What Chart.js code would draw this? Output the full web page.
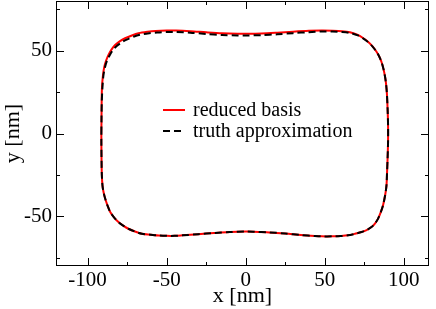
<!DOCTYPE html>
<html>
<head>
<meta charset="utf-8">
<script src="https://cdn.jsdelivr.net/npm/chart.js@4.4.0/dist/chart.umd.min.js"></script>
<style>
  html, body { margin: 0; padding: 0; background: #fff; }
  #wrap { width: 436px; height: 309px; }
</style>
</head>
<body>
<div id="wrap"><canvas id="shapeChart"></canvas></div>
<script>
// Axis ticks
const xTicks = [-100, -50, 0, 50, 100];
const yTicks = [-50, 0, 50];
const xMinor = [-75, -25, 25, 75];
const yMinor = [-75, -25, 25, 75];
const seriesLabels = ['reduced basis', 'truth approximation'];

// Reduced basis contour
const reducedX = [-91.3, -91.2, -91.1, -90.9, -90.3, -89.5, -88.3, -86.8, -84.8, -82.6, -79.5, -76.3, -72, -67.8, -62, -57, -50, -44, -35, -25, -15, -5, 0, 10, 20, 30, 40, 48, 55, 61, 66, 71, 74.5, 77.4, 80.3, 82.8, 84.5, 85.9, 87.2, 88, 88.7, 89.3, 89.8, 90.1, 90.1, 89.8, 89.4, 89.1, 88.3, 86.9, 85.5, 83.8, 81.9, 79.6, 76.5, 73.3, 69, 64.8, 60, 55, 48, 43.8, 35, 25, 15, 5, 0, -10, -20, -30, -40, -45, -50, -55, -60, -65.7, -70, -74.2, -77.5, -80.5, -83.3, -85.7, -87.4, -88.9, -90, -90.6, -91, -91.2, -91.3, -91.3];
const reducedY = [0, 10, 20, 28, 35, 40, 44, 47.5, 50.8, 53.4, 55.8, 57.5, 59.2, 60.5, 61.4, 61.9, 62.2, 62.2, 61.8, 61.1, 60.5, 60.2, 60.2, 60.4, 60.9, 61.5, 62, 62.2, 62.1, 61.8, 61.1, 59.5, 57.5, 55.4, 52.6, 49.4, 46.5, 43.3, 39, 35.3, 31, 25, 15, 5, -5, -15, -25, -31.3, -37, -43.4, -47.5, -51.4, -54.2, -56.5, -58.3, -59.5, -60.6, -61.5, -61.9, -62.1, -62.1, -61.9, -61.3, -60.4, -59.7, -59.3, -59.2, -59.5, -60.1, -60.8, -61.5, -61.8, -61.8, -61.6, -61.1, -60.5, -59.2, -57.5, -55.6, -53.5, -50.6, -47.4, -43.5, -39.3, -35, -31.3, -25, -15, -5, 0];

// Truth approximation contour
const truthX = [-91.3, -91.2, -91.0, -90.6, -90.0, -89.0, -87.7, -86.0, -84.0, -81.6, -78.5, -75.3, -71, -66.8, -61, -56, -50, -44, -35, -25, -15, -5, 0, 10, 20, 30, 40, 48, 55, 61, 66, 71, 74.5, 77.4, 80.3, 82.8, 84.5, 85.9, 87.2, 88, 88.7, 89.3, 89.8, 90.1, 90.1, 89.8, 89.4, 89.1, 88.3, 86.9, 85.5, 83.8, 81.9, 79.6, 76.5, 73.3, 69, 64.8, 60, 55, 48, 43.8, 35, 25, 15, 5, 0, -10, -20, -30, -40, -45, -50, -55, -60, -65.7, -70, -74.2, -77.5, -80.5, -83.3, -85.7, -87.4, -88.9, -90, -90.6, -91, -91.2, -91.3, -91.3];
const truthY = [0, 10, 20, 28, 35, 40, 44, 47.3, 50.3, 52.8, 55.0, 56.7, 58.4, 59.6, 60.5, 61.0, 61.3, 61.3, 60.9, 60.1, 59.5, 59.2, 59.2, 59.4, 59.9, 60.6, 61.2, 61.6, 61.6, 61.3, 60.7, 59.2, 57.3, 55.2, 52.5, 49.3, 46.5, 43.3, 39, 35.3, 31, 25, 15, 5, -5, -15, -25, -31.3, -37, -43.4, -47.5, -51.4, -54.2, -56.5, -58.3, -59.5, -60.6, -61.5, -61.9, -62.1, -62.1, -61.9, -61.3, -60.4, -59.7, -59.3, -59.2, -59.5, -60.1, -60.8, -61.5, -61.8, -61.8, -61.6, -61.1, -60.5, -59.2, -57.5, -55.6, -53.5, -50.6, -47.4, -43.5, -39.3, -35, -31.3, -25, -15, -5, 0];

const serif = "'Liberation Serif', 'Times New Roman', serif";

function toPoints(xs, ys) {
    return xs.map((v, i) => ({ x: v, y: ys[i] }));
}

// Frame with inward ticks on all four sides, plus in-plot legend
const frameAndLegend = {
    id: 'frameAndLegend',
    afterDraw(chart) {
        const { ctx, chartArea: a, scales: { x, y } } = chart;
        ctx.save();
        ctx.strokeStyle = '#000';
        ctx.lineWidth = 1;
        ctx.strokeRect(a.left + 0.5, a.top + 0.5, a.right - a.left - 1, a.bottom - a.top - 1);

        const tick = (vals, len) => {
            vals.forEach(v => {
                const px = Math.round(x.getPixelForValue(v)) + 0.5;
                ctx.beginPath();
                ctx.moveTo(px, a.bottom); ctx.lineTo(px, a.bottom - len);
                ctx.moveTo(px, a.top); ctx.lineTo(px, a.top + len);
                ctx.stroke();
            });
        };
        const tickY = (vals, len) => {
            vals.forEach(v => {
                const py = Math.round(y.getPixelForValue(v)) + 0.5;
                ctx.beginPath();
                ctx.moveTo(a.left, py); ctx.lineTo(a.left + len, py);
                ctx.moveTo(a.right, py); ctx.lineTo(a.right - len, py);
                ctx.stroke();
            });
        };
        tick(xTicks, 8); tick(xMinor, 4);
        tickY(yTicks, 8); tickY(yMinor, 4);

        // legend
        const lx = a.left + 107, ly = a.top + 109;
        ctx.font = '20px ' + serif;
        ctx.textBaseline = 'middle';
        ctx.fillStyle = '#000';
        chart.data.datasets.forEach((ds, i) => {
            const yy = ly + i * 21;
            ctx.strokeStyle = ds.borderColor;
            ctx.lineWidth = 2;
            ctx.setLineDash(ds.borderDash || []);
            ctx.beginPath();
            ctx.moveTo(lx, yy); ctx.lineTo(lx + 22, yy);
            ctx.stroke();
            ctx.setLineDash([]);
            ctx.fillText(ds.label, lx + 30, yy + 1);
        });
        ctx.restore();
    }
};

const ctx = document.getElementById('shapeChart').getContext('2d');
const shapeChart = new Chart(ctx, {
    type: 'scatter',
    data: {
        datasets: [{
            label: seriesLabels[0],
            data: toPoints(reducedX, reducedY),
            showLine: true,
            borderColor: '#ff0000',
            borderWidth: 2,
            pointRadius: 0,
            tension: 0.3,
            order: 2
        }, {
            label: seriesLabels[1],
            data: toPoints(truthX, truthY),
            showLine: true,
            borderColor: '#000000',
            borderWidth: 2,
            borderDash: [7, 4],
            pointRadius: 0,
            tension: 0.3,
            order: 1
        }]
    },
    options: {
        responsive: true,
        maintainAspectRatio: false,
        animation: false,
        layout: { padding: { top: 1, right: 7, left: 0, bottom: 0 } },
        plugins: { legend: { display: false }, tooltip: { enabled: false } },
        scales: {
            x: {
                type: 'linear',
                min: -120,
                max: 116,
                afterBuildTicks: s => { s.ticks = xTicks.map(v => ({ value: v })); },
                afterFit: s => { s.height = 43; s.paddingLeft = 0; s.paddingRight = 0; },
                grid: { display: false, drawTicks: false },
                border: { display: false },
                ticks: { color: '#000', font: { family: serif, size: 21 }, padding: 2, maxRotation: 0 },
                title: { display: true, text: 'x [nm]', color: '#000', font: { family: serif, size: 22 }, padding: 0 }
            },
            y: {
                type: 'linear',
                min: -80,
                max: 80,
                afterBuildTicks: s => { s.ticks = yTicks.map(v => ({ value: v })); },
                afterFit: s => { s.width = 56; s.paddingTop = 0; s.paddingBottom = 0; },
                grid: { display: false, drawTicks: false },
                border: { display: false },
                ticks: { color: '#000', font: { family: serif, size: 21 }, padding: 4 },
                title: { display: true, text: 'y [nm]', color: '#000', font: { family: serif, size: 22 }, padding: 0 }
            }
        }
    },
    plugins: [frameAndLegend]
});
</script>
</body>
</html>
